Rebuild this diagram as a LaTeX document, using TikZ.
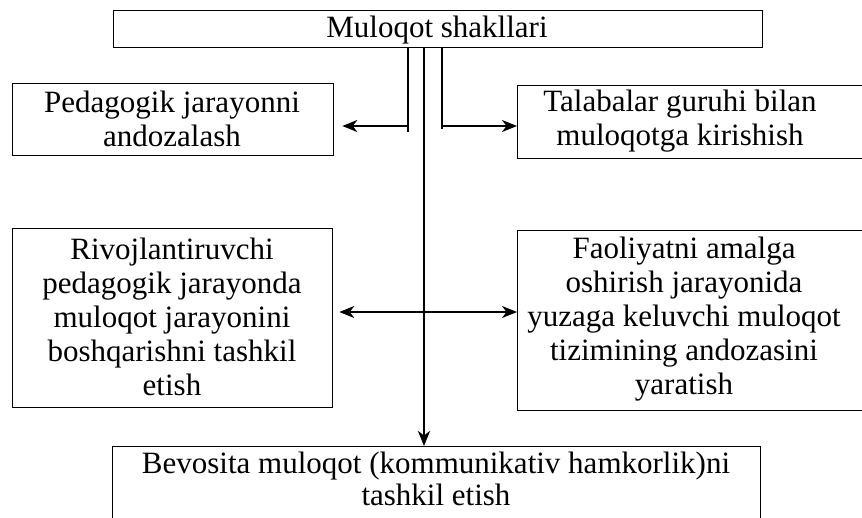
\documentclass[tikz,border=0pt]{standalone}
\usepackage{fontspec}
\setmainfont{Liberation Serif}
\usetikzlibrary{arrows.meta}
\begin{document}
\begin{tikzpicture}[x=1pt,y=-1pt,
  box/.style={draw, line width=1.3pt, inner sep=0pt, anchor=north west},
  txt/.style={align=center, font=\fontsize{31}{34}\selectfont, inner sep=0pt},
  lw/.style={line width=2pt},
  conn/.style={line width=2pt, -{Stealth[length=15pt,width=12pt,inset=4.5pt]}},
]
\useasboundingbox (0,0) rectangle (862,517);
\clip (0,0) rectangle (862,517);
% boxes
\node[box, minimum width=649, minimum height=37] (top) at (113,10) {};
\node[txt] (topt) at (437,30) {Muloqot shakllari};
\node[box, minimum width=321, minimum height=72] (l1) at (12,83) {};
\node[txt] (l1t) at (172,119) {Pedagogik jarayonni\\andozalash};
\node[box, minimum width=370, minimum height=73] (r1) at (517,85) {};
\node[txt] (r1t) at (680,121) {Talabalar guruhi bilan\\muloqotga kirishish};
\node[box, minimum width=320, minimum height=179] (l2) at (12,228) {};
\node[txt] (l2t) at (172,317) {Rivojlantiruvchi\\pedagogik jarayonda\\muloqot jarayonini\\boshqarishni tashkil\\etish};
\node[box, minimum width=370, minimum height=180] (r2) at (517,230) {};
\node[txt] (r2t) at (684,319) {Faoliyatni amalga\\oshirish jarayonida\\yuzaga keluvchi muloqot\\tizimining andozasini\\yaratish};
\node[box, minimum width=648, minimum height=90] (bot) at (112,446) {};
\node[txt, font=\fontsize{31}{32}\selectfont] (bott) at (436,479) {Bevosita muloqot (kommunikativ hamkorlik)ni\\tashkil etish};
% junctions
\coordinate (jL) at (408,126);
\coordinate (jLend) at (408,132);
\coordinate (jR) at (442,126);
\coordinate (jRend) at (442,129);
\coordinate (jM) at (424,312);
% connectors
\draw[lw] (top.south -| jL) -- (jLend);
\draw[conn, shorten >=8pt] (jL) -- (l1.east |- jL);
\draw[lw] (top.south -| jR) -- (jRend);
\draw[conn] (jR) -- (r1.west |- jR);
\draw[conn, line width=2.8pt] (top.south -| jM) -- (bot.north -| jM);
\draw[conn, shorten >=6pt] (jM) -- (l2.east |- jM);
\draw[conn] (jM) -- (r2.west |- jM);
\end{tikzpicture}
\end{document}
